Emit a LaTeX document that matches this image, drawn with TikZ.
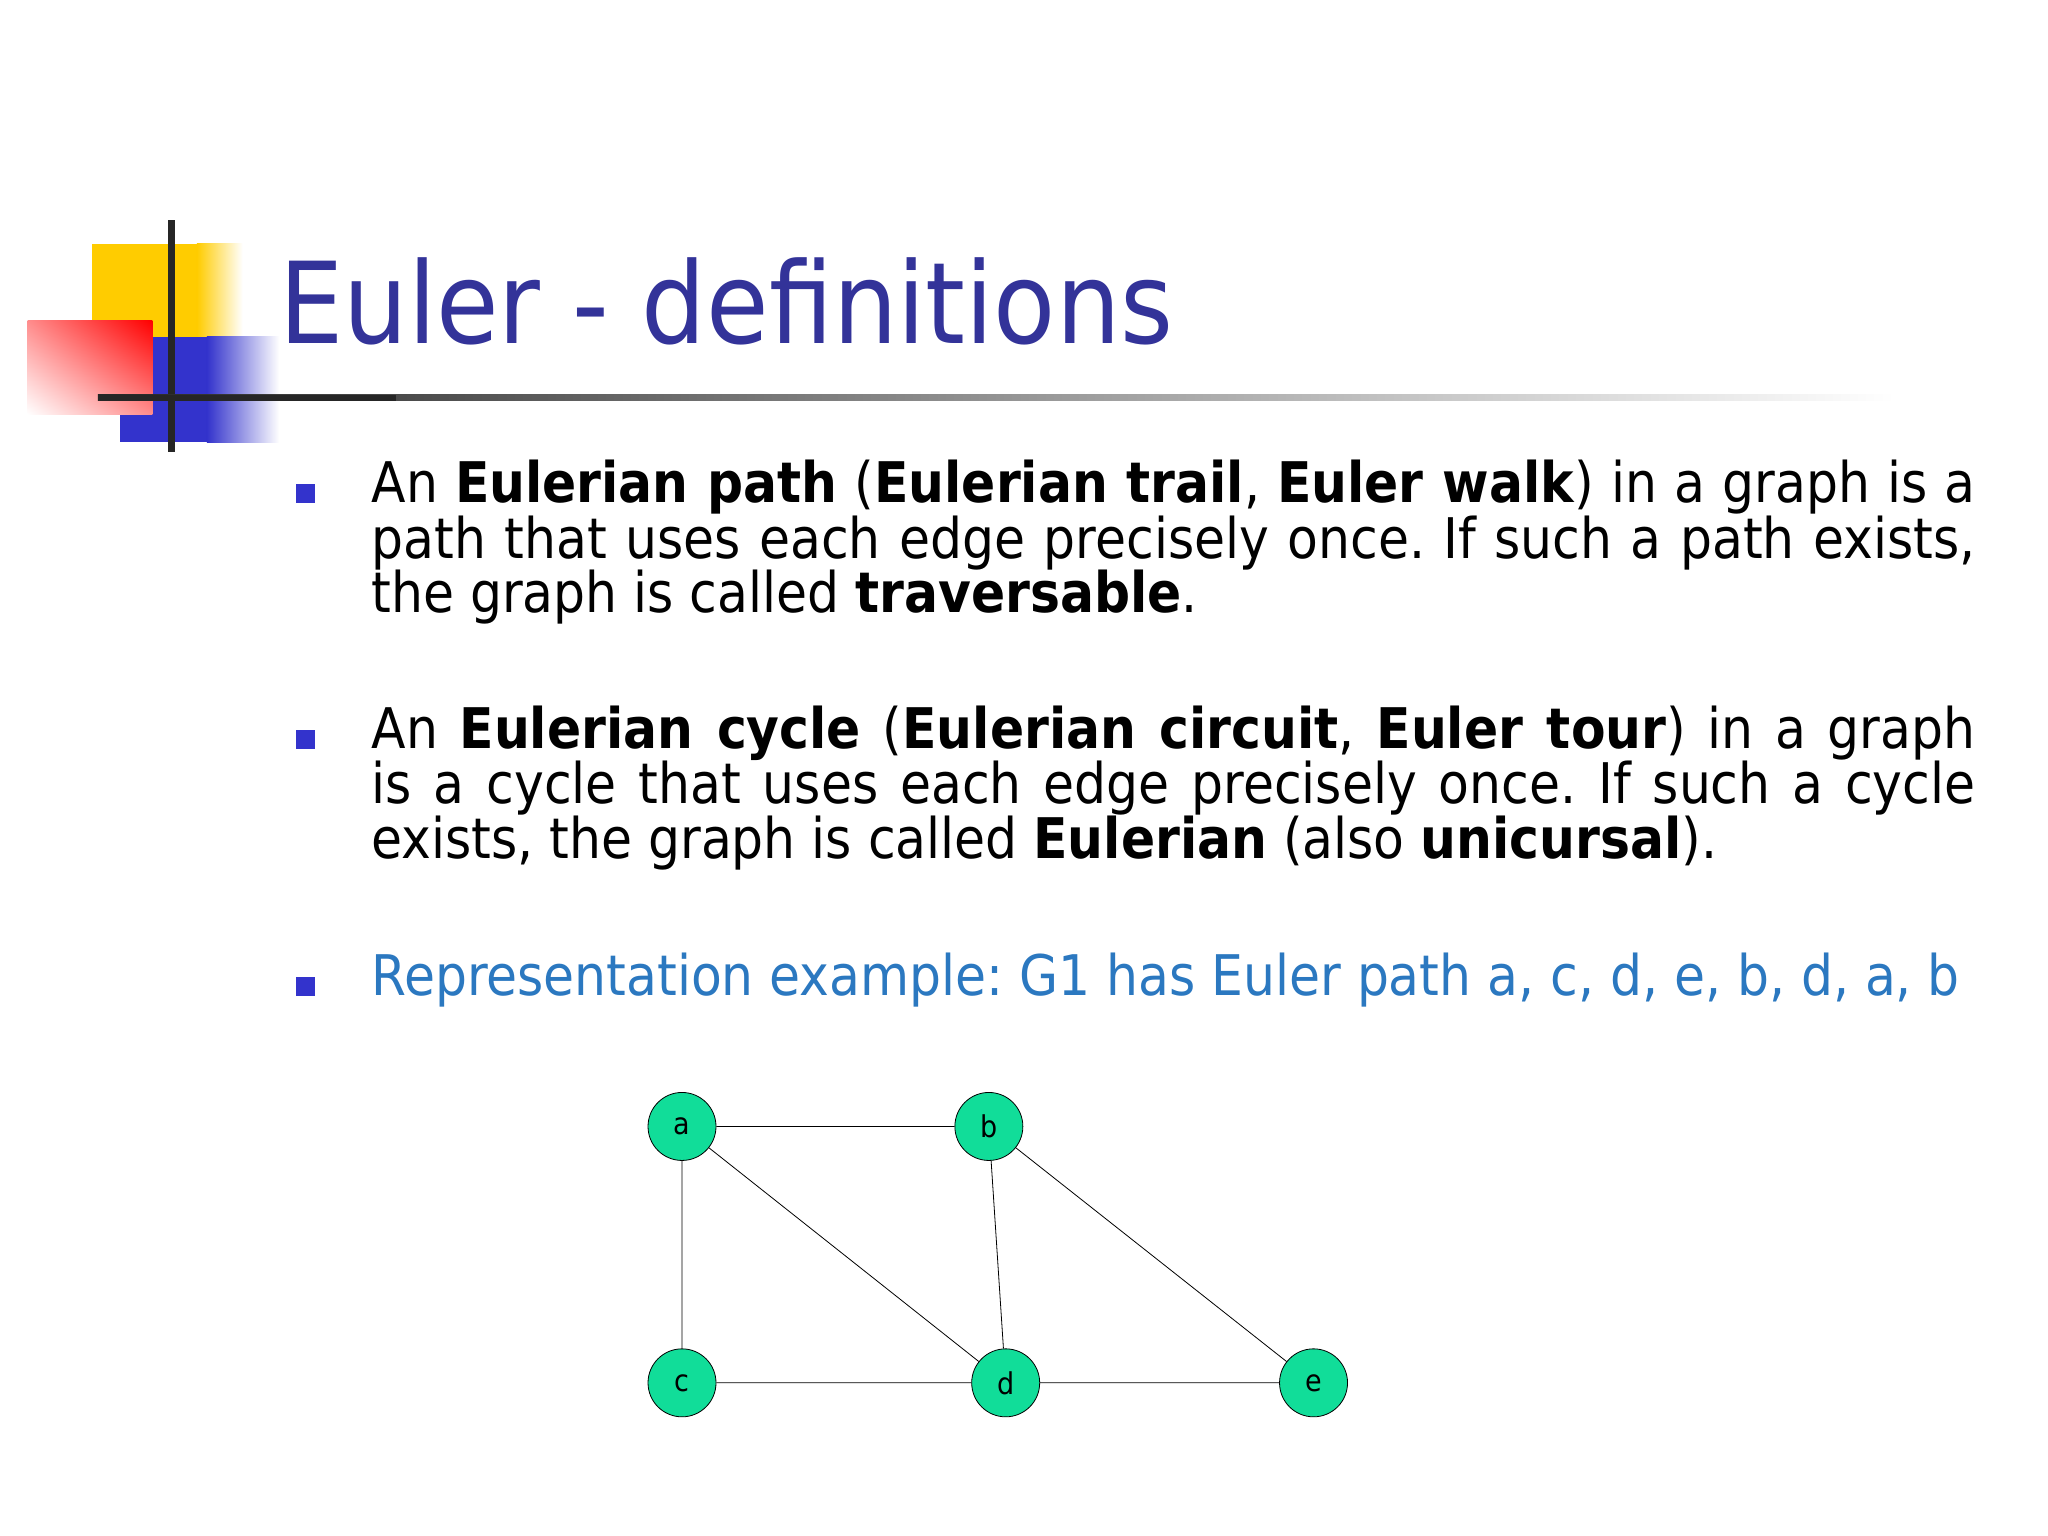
\documentclass[tikz,border=0pt]{standalone}
\usepackage{fontspec}
\usetikzlibrary{shadings}
\setmainfont{DejaVu Sans Condensed}
\frenchspacing
\definecolor{titleblue}{HTML}{333399}
\definecolor{bulletblue}{HTML}{3333CC}
\definecolor{exblue}{HTML}{2B78C0}
\definecolor{nodegreen}{HTML}{11DD99}
\definecolor{logoyellow}{HTML}{FFCC00}
\begin{document}
\begin{tikzpicture}[x=0.495pt,y=-0.495pt,
  vtx/.style={circle,draw=black,fill=nodegreen,minimum size=34pt,inner sep=0pt,font=\fontsize{15}{18}\selectfont},
  ln/.style={anchor=base west,inner sep=0pt,font=\fontsize{28}{32}\selectfont},
  bul/.style={fill=bulletblue,minimum size=9.5pt,inner sep=0pt}]
\useasboundingbox (0,0) rectangle (2069,1551);
% logo
\fill[logoyellow] (93,246) rectangle (200,340);
\shade[left color=logoyellow, right color=white] (199,246) rectangle (245,340);
\fill[bulletblue] (121,340) rectangle (210,447);
\shade[left color=bulletblue, right color=white] (209,340) rectangle (282,447);
\shade[upper right=red, lower left=white, upper left=red!45, lower right=red!45] (28,324) rectangle (154,419);
\fill[black!85] (170,222) rectangle (177,457);
\shade[left color=black!85, right color=white] (99,399) rectangle (1914,405);
\fill[black!85] (99,399) rectangle (400,405);
% title
\node[anchor=base west,inner sep=0pt,text=titleblue,font=\fontsize{56.5}{64}\selectfont] (title) at (282,347) {Euler - definitions};
% bullets
\node[bul] (b1) at (309,499) {};
\node[bul] (b2) at (309,747) {};
\node[bul] (b3) at (309,997) {};
\node[ln] (l1) at (375,508) {\makebox[802pt][s]{An \textbf{Eulerian path} (\textbf{Eulerian trail}, \textbf{Euler walk}) in a graph is a}};
\node[ln] (l2) at (375,564) {\makebox[802pt][s]{path that uses each edge precisely once. If such a path exists,}};
\node[ln] (l3) at (375,619) {the graph is called \textbf{traversable}.};
\node[ln] (l4) at (375,756) {\makebox[802pt][s]{An \textbf{Eulerian cycle} (\textbf{Eulerian circuit}, \textbf{Euler tour}) in a graph}};
\node[ln] (l5) at (375,812) {\makebox[802pt][s]{is a cycle that uses each edge precisely once. If such a cycle}};
\node[ln] (l6) at (375,867) {exists, the graph is called \textbf{Eulerian} (also \textbf{unicursal}).};
\node[ln,text=exblue] (l7) at (375,1006) {Representation example: G1 has Euler path a, c, d, e, b, d, a, b};
% graph
\node[vtx] (a) at (689,1138) {a};
\node[vtx] (b) at (999,1138) {b};
\node[vtx] (c) at (689,1397) {c};
\node[vtx] (d) at (1016,1397) {d};
\node[vtx] (e) at (1327,1397) {e};
\draw (a) -- (b) (a) -- (c) (a) -- (d) (b) -- (d) (b) -- (e) (c) -- (d) (d) -- (e);
\end{tikzpicture}
\end{document}
